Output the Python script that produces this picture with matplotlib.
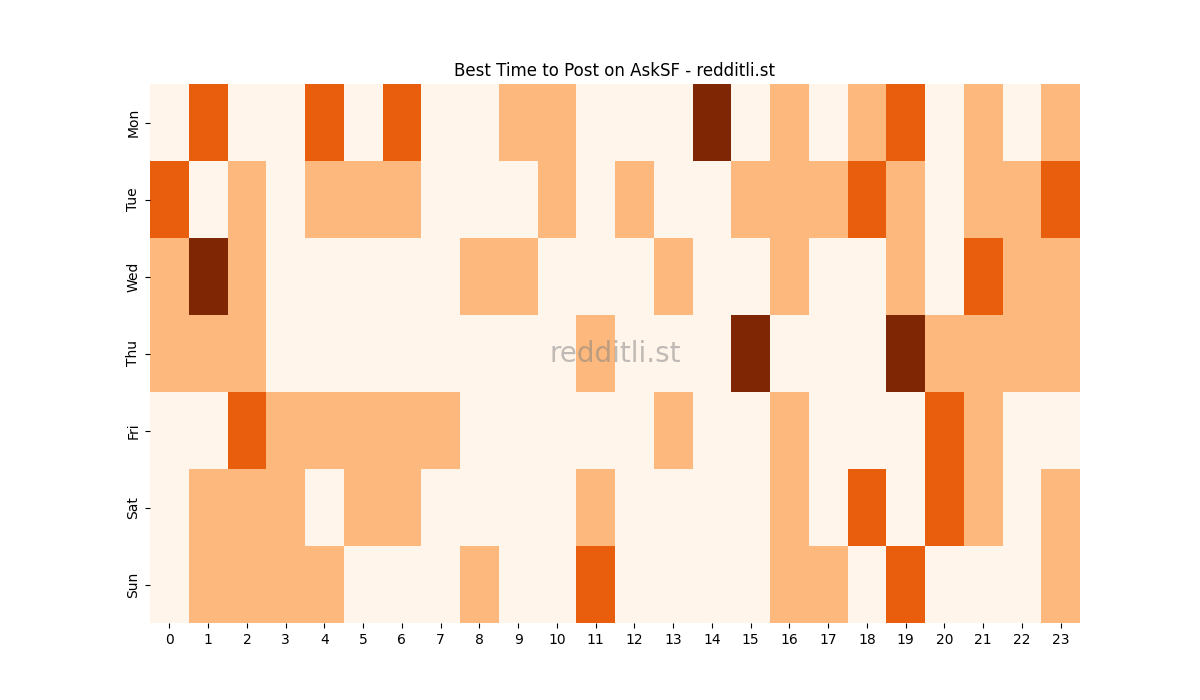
import matplotlib
matplotlib.use("Agg")
import matplotlib.pyplot as plt
import numpy as np

days = ["Mon", "Tue", "Wed", "Thu", "Fri", "Sat", "Sun"]
hours = list(range(24))

mon = [0, 2, 0, 0, 2, 0, 2, 0, 0, 1, 1, 0, 0, 0, 3, 0, 1, 0, 1, 2, 0, 1, 0, 1]
tue = [2, 0, 1, 0, 1, 1, 1, 0, 0, 0, 1, 0, 1, 0, 0, 1, 1, 1, 2, 1, 0, 1, 1, 2]
wed = [1, 3, 1, 0, 0, 0, 0, 0, 1, 1, 0, 0, 0, 1, 0, 0, 1, 0, 0, 1, 0, 2, 1, 1]
thu = [1, 1, 1, 0, 0, 0, 0, 0, 0, 0, 0, 1, 0, 0, 0, 3, 0, 0, 0, 3, 1, 1, 1, 1]
fri = [0, 0, 2, 1, 1, 1, 1, 1, 0, 0, 0, 0, 0, 1, 0, 0, 1, 0, 0, 0, 2, 1, 0, 0]
sat = [0, 1, 1, 1, 0, 1, 1, 0, 0, 0, 0, 1, 0, 0, 0, 0, 1, 0, 2, 0, 2, 1, 0, 1]
sun = [0, 1, 1, 1, 1, 0, 0, 0, 1, 0, 0, 2, 0, 0, 0, 0, 1, 1, 0, 2, 0, 0, 0, 1]

grid = np.array([mon, tue, wed, thu, fri, sat, sun])

fig, ax = plt.subplots(figsize=(12, 7), dpi=100)
ax.pcolormesh(grid, cmap="Oranges", vmin=0, vmax=3)
ax.set_xlim(0, len(hours))
ax.set_ylim(len(days), 0)

ax.set_xticks(np.arange(len(hours)) + 0.5)
ax.set_xticklabels([str(h) for h in hours])
ax.set_yticks(np.arange(len(days)) + 0.5)
ax.set_yticklabels(days, rotation=90, va="center")
for s in ax.spines.values():
    s.set_visible(False)

ax.set_title("Best Time to Post on AskSF - redditli.st")
ax.text(0.5, 0.5, "redditli.st", transform=ax.transAxes, ha="center", va="center",
        fontsize=20, color="gray", alpha=0.5)

fig.savefig("out.png")
